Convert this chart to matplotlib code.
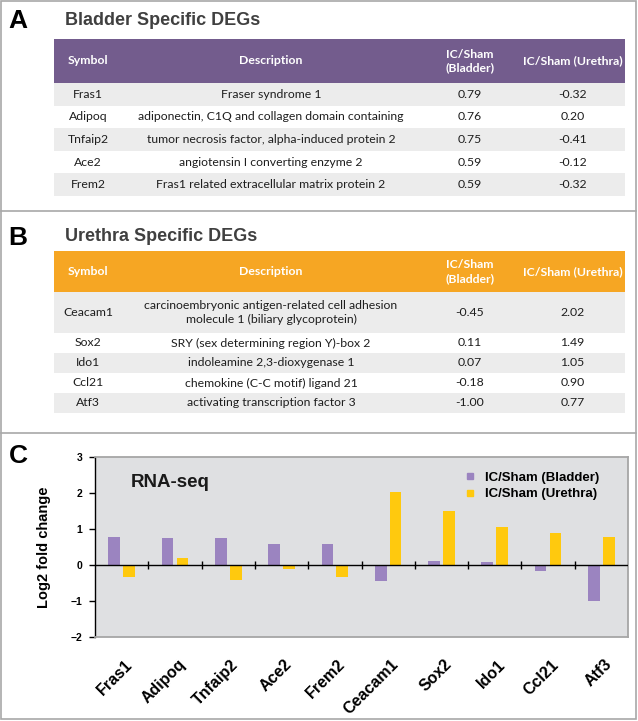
import matplotlib
matplotlib.use("Agg")
from matplotlib import pyplot as plt
from matplotlib.patches import Rectangle
from matplotlib.lines import Line2D
from matplotlib import transforms
import numpy as np

# ---- data ----
bladder_symbols = ["Fras1", "Adipoq", "Tnfaip2", "Ace2", "Frem2"]
bladder_desc = [
    "Fraser syndrome 1",
    "adiponectin, C1Q and collagen domain containing",
    "tumor necrosis factor, alpha-induced protein 2",
    "angiotensin I converting enzyme 2",
    "Fras1 related extracellular matrix protein 2",
]
bladder_fc_bladder = ["0.79", "0.76", "0.75", "0.59", "0.59"]
bladder_fc_urethra = ["-0.32", "0.20", "-0.41", "-0.12", "-0.32"]

urethra_symbols = ["Ceacam1", "Sox2", "Ido1", "Ccl21", "Atf3"]
urethra_desc = [
    "carcinoembryonic antigen-related cell adhesion\nmolecule 1 (biliary glycoprotein)",
    "SRY (sex determining region Y)-box 2",
    "indoleamine 2,3-dioxygenase 1",
    "chemokine (C-C motif) ligand 21",
    "activating transcription factor 3",
]
urethra_fc_bladder = ["-0.45", "0.11", "0.07", "-0.18", "-1.00"]
urethra_fc_urethra = ["2.02", "1.49", "1.05", "0.90", "0.77"]

header = ["Symbol", "Description", "IC/Sham\n(Bladder)", "IC/Sham (Urethra)"]

genes = ["Fras1", "Adipoq", "Tnfaip2", "Ace2", "Frem2",
         "Ceacam1", "Sox2", "Ido1", "Ccl21", "Atf3"]
log2fc_bladder = [0.79, 0.76, 0.75, 0.59, 0.59, -0.45, 0.11, 0.07, -0.18, -1.00]
log2fc_urethra = [-0.32, 0.20, -0.41, -0.12, -0.32, 2.02, 1.49, 1.05, 0.90, 0.77]

W, H = 638, 721
fig = plt.figure(figsize=(W / 100, H / 100), dpi=100)
fig.patch.set_facecolor("white")


def fx(x):
    return x / W


def fy(y):
    return 1 - y / H


def rect(x0, y0, x1, y1, **kw):
    fig.patches.append(Rectangle((fx(x0), fy(y1)), fx(x1) - fx(x0), fy(y0) - fy(y1),
                                 transform=fig.transFigure, figure=fig, **kw))


def hline(y, x0, x1, **kw):
    fig.add_artist(Line2D([fx(x0), fx(x1)], [fy(y), fy(y)], transform=fig.transFigure, **kw))


# outer frame and panel separators
rect(1, 1, 636, 719, facecolor="none", edgecolor="#a8a8a8", linewidth=1.2)
hline(211, 1, 636, color="#a8a8a8", linewidth=1.2)
hline(433, 1, 636, color="#a8a8a8", linewidth=1.2)

title_font = dict(family="Liberation Sans", fontweight="bold")
table_font = ["Lato", "DejaVu Sans"]
col_edges = [54, 122, 420, 520, 625]
col_centers = [(a + b) / 2 for a, b in zip(col_edges[:-1], col_edges[1:])]


def draw_table(letter, title, letter_y, top, head_bottom, row_heights, color,
               symbols, descs, fc_b, fc_u):
    fig.text(fx(8), fy(letter_y), letter, fontsize=19, color="black",
             ha="left", va="center", **title_font)
    fig.text(fx(65), fy(letter_y - 1), title, fontsize=13, color="#404040",
             ha="left", va="center", **title_font)
    rect(col_edges[0], top, col_edges[-1], head_bottom, facecolor=color, edgecolor="none")
    for cx, h in zip(col_centers, header):
        fig.text(fx(cx), fy((top + head_bottom) / 2), h, fontsize=8.8, color="white",
                 fontweight="bold", family=table_font, ha="center", va="center",
                 linespacing=1.3)
    y = head_bottom
    for i, rh in enumerate(row_heights):
        if i % 2 == 0:
            rect(col_edges[0], y, col_edges[-1], y + rh, facecolor="#ececec", edgecolor="none")
        cells = [symbols[i], descs[i], fc_b[i], fc_u[i]]
        for cx, c in zip(col_centers, cells):
            fig.text(fx(cx), fy(y + rh / 2), c, fontsize=8.8, color="#1e1e1e",
                     family=table_font, ha="center", va="center", linespacing=1.3)
        y += rh


draw_table("A", "Bladder Specific DEGs", 21.5, 39, 83, [22.6] * 5, "#735c8d",
           bladder_symbols, bladder_desc, bladder_fc_bladder, bladder_fc_urethra)
draw_table("B", "Urethra Specific DEGs", 237.5, 251, 292, [41, 20, 20, 20, 20], "#f6a623",
           urethra_symbols, urethra_desc, urethra_fc_bladder, urethra_fc_urethra)

# ---- panel C ----
fig.text(fx(9), fy(456), "C", fontsize=19, color="black", ha="left", va="center", **title_font)

ax = fig.add_axes([fx(95), fy(637), fx(628) - fx(95), fy(457) - fy(637)])
ax.set_facecolor("#dfe0e2")
x = np.arange(len(genes))
w = 0.22
ax.bar(x - 0.14, log2fc_bladder, width=w, color="#9b84c0", label="IC/Sham (Bladder)", zorder=2)
ax.bar(x + 0.14, log2fc_urethra, width=w, color="#ffc90e", label="IC/Sham (Urethra)", zorder=2)
ax.axhline(0, color="black", linewidth=1, zorder=3)
ax.vlines(np.arange(0.5, len(genes) - 1), -0.12, 0.12, color="black", linewidth=1, zorder=3)

ax.set_xlim(-0.5, len(genes) - 0.5)
ax.set_ylim(-2, 3)
ax.set_yticks([-2, -1, 0, 1, 2, 3])
ax.set_xticks([])
ax.tick_params(axis="y", direction="out", length=4, width=1, pad=5, labelsize=7.5)
for lab in ax.get_yticklabels():
    lab.set_fontweight("bold")
    lab.set_family("Liberation Sans")
for s in ["top", "right", "bottom"]:
    ax.spines[s].set_color("#a6a6a6")
    ax.spines[s].set_linewidth(1.3)
ax.spines["left"].set_color("black")
ax.spines["left"].set_linewidth(1)

ax.set_ylabel("Log2 fold change", fontsize=10.5, fontweight="bold", family="Liberation Sans")
ax.yaxis.set_label_coords(-0.082, 0.5)

trans = transforms.blended_transform_factory(ax.transData, ax.transAxes)
for xi, g in zip(x, genes):
    ax.text(xi + 0.05, -0.11, g, transform=trans, rotation=45, rotation_mode="anchor",
            ha="right", va="top", fontsize=11.5, fontweight="bold", family="Liberation Sans")

ax.text(0.0675, 0.856, "RNA-seq", transform=ax.transAxes, fontsize=13.5, fontweight="bold",
        family="Liberation Sans", ha="left", va="center", color="#1a1a1a")

handles = [Line2D([], [], marker="s", linestyle="none", markersize=5, color="#9b84c0"),
           Line2D([], [], marker="s", linestyle="none", markersize=5, color="#ffc90e")]
ax.legend(handles, ["IC/Sham (Bladder)", "IC/Sham (Urethra)"], loc="upper left",
          bbox_to_anchor=(0.678, 0.955), frameon=False, borderpad=0, handlelength=1.0,
          handletextpad=0.7, labelspacing=0.3,
          prop=dict(family="Liberation Sans", weight="bold", size=9.5))

fig.savefig("out.png", dpi=100)
